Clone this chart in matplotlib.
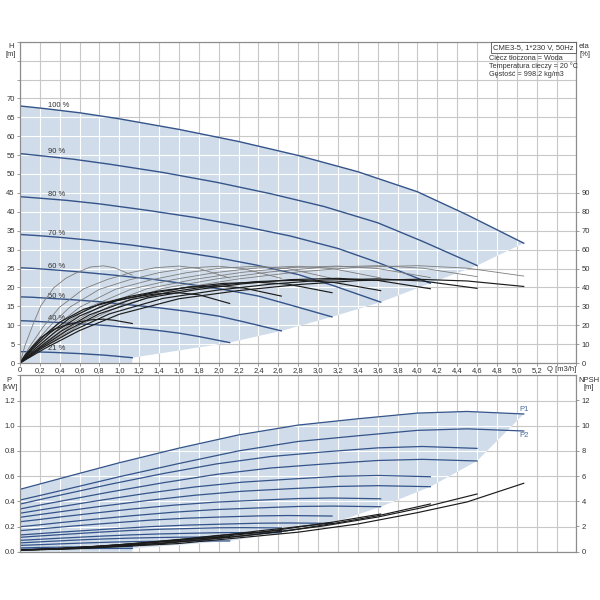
import matplotlib
matplotlib.use('Agg')
import matplotlib.pyplot as plt
from matplotlib.patches import Polygon
import numpy as np

plt.rcParams['font.family'] = ['Liberation Sans', 'DejaVu Sans']

# ---------------- data ----------------
SPEED_LABELS = ['100 %', '90 %', '80 %', '70 %', '60 %', '50 %', '40 %', '21 %']
LABEL_Q = 0.28
LABEL_H = [68.0, 55.9, 44.5, 34.2, 25.4, 17.7, 11.8, 3.9]

Q_100 = [0, 0.25, 0.6, 1.0, 1.6, 2.2, 2.8, 3.4, 4.0, 4.5, 5.07]
Q_90 = [0, 0.22, 0.54, 0.9, 1.44, 1.98, 2.52, 3.06, 3.6, 4.05, 4.60]
Q_80 = [0, 0.2, 0.48, 0.8, 1.28, 1.76, 2.24, 2.72, 3.2, 3.6, 4.13]
Q_70 = [0, 0.18, 0.42, 0.7, 1.12, 1.54, 1.96, 2.38, 2.8, 3.15, 3.63]
Q_60 = [0, 0.15, 0.36, 0.6, 0.96, 1.32, 1.68, 2.04, 2.4, 2.7, 3.14]
Q_50 = [0, 0.12, 0.3, 0.5, 0.8, 1.1, 1.4, 1.7, 2.0, 2.25, 2.63]
Q_40 = [0, 0.1, 0.24, 0.4, 0.64, 0.88, 1.12, 1.36, 1.6, 1.8, 2.11]
Q_21 = [0, 0.05, 0.13, 0.21, 0.34, 0.46, 0.59, 0.71, 0.84, 0.95, 1.13]

# head [m]
H_100 = [68.0, 67.3, 66.2, 64.6, 61.8, 58.6, 54.9, 50.6, 45.3, 39.2, 31.7]
H_90 = [55.4, 54.8, 53.9, 52.6, 50.4, 47.8, 44.8, 41.4, 37.1, 32.2, 25.8]
H_80 = [44.0, 43.6, 43.0, 42.1, 40.4, 38.5, 36.2, 33.6, 30.3, 26.6, 21.1]
H_70 = [34.0, 33.7, 33.2, 32.5, 31.2, 29.7, 28.0, 25.9, 23.4, 20.5, 16.1]
H_60 = [25.2, 25.0, 24.6, 24.1, 23.2, 22.2, 20.9, 19.5, 17.7, 15.5, 12.2]
H_50 = [17.5, 17.4, 17.1, 16.8, 16.2, 15.4, 14.6, 13.6, 12.4, 10.9, 8.5]
H_40 = [11.2, 11.1, 10.9, 10.7, 10.3, 9.9, 9.3, 8.7, 7.9, 7.0, 5.4]
H_21 = [3.0, 3.0, 2.95, 2.9, 2.8, 2.65, 2.5, 2.3, 2.1, 1.85, 1.4]

# pump efficiency [%]
EP_100 = [0, 9.0, 20.0, 30.0, 39.5, 44.5, 48.2, 50.7, 51.5, 50.2, 46.0]
EP_90 = [0, 9.0, 20.0, 30.0, 39.5, 44.5, 48.2, 50.7, 51.5, 50.2, 45.7]
EP_80 = [0, 8.9, 19.8, 29.8, 39.3, 44.3, 48.0, 50.5, 51.3, 50.0, 45.2]
EP_70 = [0, 8.8, 19.6, 29.6, 39.1, 44.1, 47.8, 50.3, 51.2, 49.9, 45.0]
EP_60 = [0, 8.8, 19.5, 29.5, 39.0, 44.0, 47.8, 50.3, 51.2, 49.9, 44.8]
EP_50 = [0, 8.8, 19.5, 29.5, 39.0, 44.0, 47.8, 50.3, 51.2, 49.9, 44.8]
EP_40 = [0, 8.9, 19.6, 29.6, 39.2, 44.2, 47.9, 50.4, 51.3, 50.0, 45.0]
EP_21 = [0, 9.2, 20.3, 30.3, 39.8, 44.8, 48.3, 50.8, 51.4, 50.4, 46.5]

# total efficiency [%]
ET_100 = [0, 7.7, 17.2, 25.8, 34.0, 38.3, 41.5, 43.6, 44.3, 43.4, 40.5]
ET_90 = [0, 7.8, 17.3, 26.0, 34.2, 38.5, 41.7, 43.9, 44.5, 43.4, 39.5]
ET_80 = [0, 7.8, 17.4, 26.1, 34.4, 38.7, 41.9, 44.1, 44.8, 43.7, 39.3]
ET_70 = [0, 7.7, 17.0, 25.5, 33.6, 37.8, 41.0, 43.1, 43.8, 42.7, 38.3]
ET_60 = [0, 7.5, 16.6, 24.9, 32.8, 36.9, 40.0, 42.1, 42.7, 41.7, 37.2]
ET_50 = [0, 7.1, 15.8, 23.7, 31.2, 35.2, 38.1, 40.1, 40.7, 39.7, 35.4]
ET_40 = [0, 6.5, 14.4, 21.6, 28.4, 32.0, 34.7, 36.5, 37.1, 36.1, 31.5]
ET_21 = [0, 4.1, 9.0, 13.5, 17.8, 20.0, 21.7, 22.8, 23.2, 22.6, 20.9]

# input power P1 [kW]
P1_100 = [0.495, 0.548, 0.622, 0.706, 0.822, 0.927, 1.005, 1.055, 1.100, 1.113, 1.093]
P1_90 = [0.378, 0.417, 0.472, 0.534, 0.620, 0.697, 0.755, 0.792, 0.824, 0.835, 0.820]
P1_80 = [0.305, 0.331, 0.366, 0.407, 0.464, 0.514, 0.552, 0.576, 0.598, 0.605, 0.595]
P1_70 = [0.238, 0.254, 0.277, 0.302, 0.338, 0.369, 0.393, 0.408, 0.422, 0.426, 0.420]
P1_60 = [0.167, 0.177, 0.192, 0.208, 0.230, 0.251, 0.266, 0.276, 0.284, 0.287, 0.283]
P1_50 = [0.114, 0.121, 0.130, 0.140, 0.155, 0.168, 0.178, 0.184, 0.190, 0.191, 0.189]
P1_40 = [0.070, 0.074, 0.080, 0.086, 0.095, 0.102, 0.108, 0.112, 0.115, 0.116, 0.115]
P1_21 = [0.030, 0.031, 0.032, 0.034, 0.035, 0.037, 0.038, 0.039, 0.040, 0.040, 0.040]

# shaft power P2 [kW]
P2_100 = [0.410, 0.455, 0.520, 0.595, 0.700, 0.800, 0.875, 0.920, 0.963, 0.975, 0.958]
P2_90 = [0.339, 0.373, 0.420, 0.473, 0.547, 0.614, 0.664, 0.696, 0.724, 0.733, 0.720]
P2_80 = [0.273, 0.295, 0.325, 0.359, 0.406, 0.448, 0.480, 0.500, 0.518, 0.524, 0.516]
P2_70 = [0.198, 0.212, 0.232, 0.254, 0.285, 0.313, 0.334, 0.347, 0.359, 0.362, 0.357]
P2_60 = [0.133, 0.141, 0.153, 0.165, 0.183, 0.199, 0.211, 0.219, 0.226, 0.228, 0.225]
P2_50 = [0.090, 0.095, 0.103, 0.111, 0.123, 0.133, 0.141, 0.146, 0.151, 0.152, 0.150]
P2_40 = [0.050, 0.053, 0.057, 0.062, 0.069, 0.075, 0.080, 0.083, 0.085, 0.086, 0.085]
P2_21 = [0.020, 0.0205, 0.021, 0.022, 0.023, 0.024, 0.025, 0.0255, 0.026, 0.026, 0.026]

# NPSH [m]
NP_100 = [0.15, 0.17, 0.25, 0.40, 0.65, 1.10, 1.55, 2.20, 3.10, 3.95, 5.43]
NP_90 = [0.15, 0.17, 0.25, 0.40, 0.65, 1.05, 1.50, 2.05, 2.75, 3.50, 4.58]
NP_80 = [0.15, 0.17, 0.25, 0.38, 0.60, 0.90, 1.25, 1.70, 2.30, 2.85, 3.79]
NP_70 = [0.15, 0.17, 0.24, 0.36, 0.57, 0.85, 1.15, 1.50, 1.95, 2.35, 2.99]
NP_60 = [0.15, 0.17, 0.23, 0.33, 0.52, 0.75, 1.00, 1.30, 1.65, 1.90, 2.30]
NP_50 = [0.15, 0.17, 0.22, 0.30, 0.45, 0.62, 0.83, 1.05, 1.30, 1.45, 1.70]
NP_40 = [0.15, 0.16, 0.20, 0.26, 0.36, 0.48, 0.62, 0.76, 0.92, 1.02, 1.20]
NP_21 = [0.15, 0.15, 0.17, 0.19, 0.22, 0.26, 0.30, 0.34, 0.39, 0.43, 0.50]

Q_ALL = [Q_100, Q_90, Q_80, Q_70, Q_60, Q_50, Q_40, Q_21]
H_ALL = [H_100, H_90, H_80, H_70, H_60, H_50, H_40, H_21]
EP_ALL = [EP_100, EP_90, EP_80, EP_70, EP_60, EP_50, EP_40, EP_21]
ET_ALL = [ET_100, ET_90, ET_80, ET_70, ET_60, ET_50, ET_40, ET_21]
P1_ALL = [P1_100, P1_90, P1_80, P1_70, P1_60, P1_50, P1_40, P1_21]
P2_ALL = [P2_100, P2_90, P2_80, P2_70, P2_60, P2_50, P2_40, P2_21]
NP_ALL = [NP_100, NP_90, NP_80, NP_70, NP_60, NP_50, NP_40, NP_21]

X_TICKS = [round(0.2 * i, 1) for i in range(29)]
X_LABELS = [('0' if v == 0 else f'{v:.1f}'.replace('.', ',')) if v <= 5.2 else '' for v in X_TICKS]
H_TICKS = list(range(0, 90, 5))
H_LABELS = [str(v) if v <= 70 else '' for v in H_TICKS]
ETA_TICKS = list(range(0, 100, 10))
P_TICKS = [0.0, 0.2, 0.4, 0.6, 0.8, 1.0, 1.2, 1.4]
P_LABELS = ['0.0', '0.2', '0.4', '0.6', '0.8', '1.0', '1.2', '']
NPSH_TICKS = [0, 2, 4, 6, 8, 10, 12]

INFO_TITLE = 'CME3-5, 1*230 V, 50Hz'
INFO_LINES = ['Ciecz tłoczona = Woda', 'Temperatura cieczy = 20 °C', 'Gęstość = 998.2 kg/m3']

# ---------------- styles ----------------
BLUE = '#34548a'
FILL = '#d0dce9'
GRID = '#c8c8c8'
SPINE = '#8c8c8c'
TXT = '#333333'
FS = 5.5

fig = plt.figure(figsize=(6, 6), dpi=100)
L, R = 20 / 600, 576.4 / 600
ax1 = fig.add_axes([L, 0.395, R - L, 0.9305 - 0.395])
ax2 = fig.add_axes([L, 0.0805, R - L, 0.3745 - 0.0805])


def style_axes(ax):
    ax.set_axisbelow(True)
    ax.grid(True, color=GRID, lw=0.8)
    for s in ax.spines.values():
        s.set_color(SPINE)
        s.set_linewidth(0.8)
    ax.tick_params(axis='both', labelsize=FS, length=2.5, width=0.6,
                   colors=SPINE, labelcolor=TXT, pad=1.2)


def white_grid(ax, patch, xs, ys):
    for x in xs:
        ln = ax.axvline(x, color='white', lw=0.8, zorder=1.5)
        ln.set_clip_path(patch)
    for y in ys:
        ln = ax.axhline(y, color='white', lw=0.8, zorder=1.5)
        ln.set_clip_path(patch)


# ---------------- top: H & eta ----------------
ax1.set_xlim(0, 5.6)
ax1.set_ylim(0, 85)
ax1.set_xticks(X_TICKS)
ax1.set_xticklabels(X_LABELS)
ax1.set_yticks(H_TICKS)
ax1.set_yticklabels(H_LABELS)
style_axes(ax1)
ax1.tick_params(axis='x', length=2, pad=1)

ends_H = [(q[-1], h[-1]) for q, h in zip(Q_ALL[1:], H_ALL[1:])]
poly_pts = [(0, 0)] + list(zip(Q_100, H_100)) + ends_H + [(Q_21[-1], 0)]
poly1 = Polygon(poly_pts, closed=True, facecolor=FILL, edgecolor='none', zorder=1)
ax1.add_patch(poly1)
white_grid(ax1, poly1, X_TICKS, H_TICKS)

for q, h in zip(Q_ALL, H_ALL):
    ax1.plot(q, h, color=BLUE, lw=1.0, zorder=3)
for lab, y in zip(SPEED_LABELS, LABEL_H):
    ax1.text(LABEL_Q, y, lab, fontsize=FS, color=TXT, ha='left', va='center', zorder=4)

ax1t = ax1.twinx()
ax1t.set_ylim(0, 170)
ax1t.set_yticks(ETA_TICKS)
for s in ax1t.spines.values():
    s.set_color(SPINE)
    s.set_linewidth(0.8)
ax1t.tick_params(axis='y', labelsize=FS, length=2.5, width=0.6,
                 colors=SPINE, labelcolor=TXT, pad=1.2)
for q, e in zip(Q_ALL, EP_ALL):
    ax1t.plot(q, e, color='#7d7d7d', lw=0.6)
for q, e in zip(Q_ALL, ET_ALL):
    ax1t.plot(q, e, color='#1c1c1c', lw=0.85)

ax1.text(5.30, -0.019, 'Q [m3/h]', transform=ax1.get_xaxis_transform(),
         ha='left', va='center', fontsize=FS, color=TXT)

ax1t.text(1 - 3 / 556, 1 - 2.5 / 321, INFO_TITLE, transform=ax1t.transAxes, ha='right', va='top',
          fontsize=FS, color=TXT, zorder=6,
          bbox=dict(boxstyle='square,pad=0.3', fc='white', ec='#555555', lw=0.6))
for i, line in enumerate(INFO_LINES):
    fig.text(489 / 600, 1 - (59 + 7.6 * i) / 600, line, fontsize=5.2, color=TXT,
             ha='left', va='center')

fig.text(11 / 600, 1 - 46 / 600, 'H', fontsize=FS, color=TXT, ha='center', va='center')
fig.text(11 / 600, 1 - 54 / 600, '[m]', fontsize=FS, color=TXT, ha='center', va='center')
fig.text(579 / 600, 1 - 46 / 600, 'eta', fontsize=FS, color=TXT, ha='left', va='center')
fig.text(580 / 600, 1 - 54 / 600, '[%]', fontsize=FS, color=TXT, ha='left', va='center')

# ---------------- bottom: P & NPSH ----------------
ax2.set_xlim(0, 5.6)
ax2.set_ylim(0, 1.4)
ax2.set_xticks(X_TICKS)
ax2.set_xticklabels([''] * len(X_TICKS))
ax2.set_yticks(P_TICKS)
ax2.set_yticklabels(P_LABELS)
style_axes(ax2)
ax2.tick_params(axis='x', length=0)

ends_P = [(q[-1], p[-1]) for q, p in zip(Q_ALL[1:], P2_ALL[1:])]
poly_pts2 = [(0, 0)] + list(zip(Q_100, P1_100)) + ends_P + [(Q_21[-1], 0)]
poly2 = Polygon(poly_pts2, closed=True, facecolor=FILL, edgecolor='none', zorder=1)
ax2.add_patch(poly2)
white_grid(ax2, poly2, X_TICKS, P_TICKS)

for q, p in zip(Q_ALL, P1_ALL):
    ax2.plot(q, p, color=BLUE, lw=0.9, zorder=3)
for q, p in zip(Q_ALL, P2_ALL):
    ax2.plot(q, p, color=BLUE, lw=0.9, zorder=3)
ax2.text(5.03, 1.13, 'P1', fontsize=FS, color='#4a6a9a', ha='left', va='center')
ax2.text(5.03, 0.926, 'P2', fontsize=FS, color='#4a6a9a', ha='left', va='center')

ax2t = ax2.twinx()
ax2t.set_ylim(0, 14)
ax2t.set_yticks(NPSH_TICKS)
for s in ax2t.spines.values():
    s.set_color(SPINE)
    s.set_linewidth(0.8)
ax2t.tick_params(axis='y', labelsize=FS, length=2.5, width=0.6,
                 colors=SPINE, labelcolor=TXT, pad=1.2)
for q, n in zip(Q_ALL, NP_ALL):
    ax2t.plot(q, n, color='#1c1c1c', lw=0.85)

fig.text(9 / 600, 1 - 380 / 600, 'P', fontsize=FS, color=TXT, ha='center', va='center')
fig.text(10 / 600, 1 - 387.5 / 600, '[kW]', fontsize=FS, color=TXT, ha='center', va='center')
fig.text(578 / 600, 1 - 380 / 600, 'NPSH', fontsize=FS, color=TXT, ha='left', va='center')
fig.text(583 / 600, 1 - 387.5 / 600, '[m]', fontsize=FS, color=TXT, ha='left', va='center')

fig.savefig('out.png', dpi=100, facecolor='white')
